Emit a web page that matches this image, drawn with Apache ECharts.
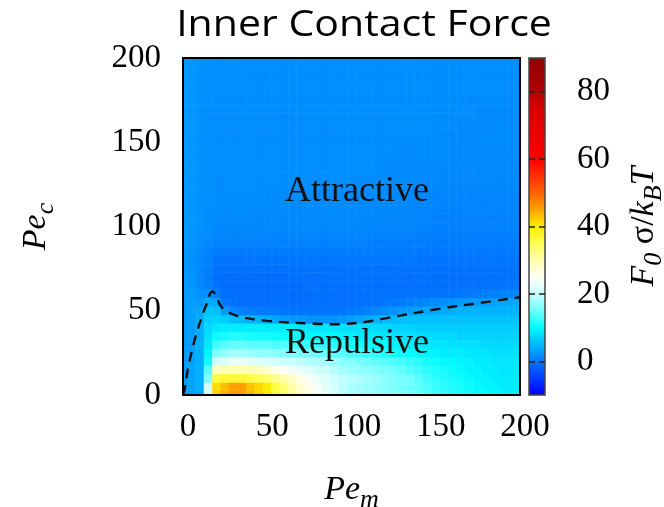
<!DOCTYPE html>
<html>
<head>
<meta charset="utf-8">
<script src="https://cdn.jsdelivr.net/npm/echarts@6/dist/echarts.min.js"></script>
<style>
html,body{margin:0;padding:0;background:#fff;}
#chart{width:664px;height:507px;}
</style>
</head>
<body>
<div id="chart"></div>
<script>
// ---- data ----
const pemValues = [0,5,10,15,20,25,30,35,40,45,50,55,60,65,70,75,80,85,90,95,100,105,110,115,120,125,130,135,140,145,150,155,160,165,170,175,180,185,190,195,200];
const pecValues = [0,5,10,15,20,25,30,35,40,45,50,55,60,65,70,75,80,85,90,95,100,105,110,115,120,125,130,135,140,145,150,155,160,165,170,175,180,185,190,195,200];
// forceRows[j][k] : F0 sigma/kBT at Pe_c = pecValues[j], Pe_m = pemValues[k]
const forceRows = [
[2.5,3.2,3.5,22, 42,44,46,45.5,44,42,40.5, 37,34,31,28,26,24,23,21.5, 19.5,18.5,18,17.5,17.5,17,16.5,16,15.5,15, 14,13,12.5,12,11.5,11,10.5,10,9.5,9.5,9,9],
[2.6,3.2,4.2,21, 41,43,45,45,43,41.5,40, 36,33,30,27.5,25.5,24,22.5,21, 19.5,18.5,18,17.5,17,16.5,16,15.5,15,14.5, 13.5,12.5,12,11.5,11,10.5,10,9.5,9.5,9,9,9],
[2.6,3.2,4.2,16, 36,37,37,37,36,35,34, 32,30,28,26,24.5,23,22,20.5, 19.5,19,18.5,18,17.5,16.5,16,15.5,15,14, 13,12,11.5,11,10.5,10,9.5,9.5,9,9,9,8.5],
[2.6,3.2,4.2,14, 29,29.5,30,30,29.5,29,28, 26,25,24,23,22,21,20,19, 18,17.5,17,16.5,16,15.5,15,14.5,13.5,13, 12,11.5,11,10.5,10,9.5,9.5,9,9,8.5,8.5,8.5],
[2.6,3.2,4.2,11, 21,22,23,23,22.5,22,21.5, 21,20.5,20,19.5,19,18.5,18,17.5, 16.5,16,15.5,15,14.5,14,13.5,13,12.5,12, 11,10.5,10,10,9.5,9.5,9,9,8.5,8.5,8.5,8.5],
[2.6,3,4.2,9.5, 16,17,18,18,17.5,17,17, 16.5,16,16,15.5,15.5,15,15,14.5, 14,13.5,13,12.5,12,11.5,11,10.5,10,10, 9.5,9.5,9,9,9,8.5,8.5,8.5,8,8,8,8],
[2.6,3,4.2,8.5, 13,14,14.5,14.5,14,14,14, 13.5,13.5,13,13,12.5,12.5,12,12, 11.5,11,11,10.5,10,10,9.5,9.5,9,9, 8.5,8.5,8.5,8,8,8,8,7.5,7.5,7.5,7.5,7.5],
[2.6,3,4.2,8, 10.5,11,11.5,11.5,11,11,11, 10.5,10.5,10.5,10.5,10,10,10,10, 9.5,9.5,9,9,9,8.5,8.5,8,8,8, 7.5,7.5,7.5,7.5,7,7,7,7,7,7,7,7],
[2.6,3,4.2,7.5, 8.5,9,9,9,9,9,9, 9,9,9,8.5,8.5,8.5,8.5,8.5, 8,8,8,7.5,7.5,7.5,7,7,7,6.5, 6.5,6.5,6.5,6.5,6.5,6.5,6.5,6.5,6.5,6.5,6.5,6.5],
[2.6,3,4,6.5, 7,6.5,5.5,5,4.5,4.5,4, 3.5,3,2.5,2.5,2,2,2,2, 2.5,3,3.5,4,4.5,5,5,5.5,5.5,5.5, 5.5,5.5,5.5,5.5,5.5,5.5,5.5,5.5,5.5,5.5,5.5,5.5],
[2.6,3,3.5,6, 5.5,3,1.2,0.8,0.4,0.1,0, 0,-0.2,-0.3,-0.3,-0.3,-0.3,-0.3,-0.3, -0.2,0,0.3,0.8,1.3,1.8,2.2,2.6,3,3.4, 3.6,3.8,4,4.2,4.4,4.5,4.5,4.5,4.5,4.5,4.5,4.5],
[2.6,2.8,2.5,4, 3.5,0,-0.5,-0.8,-0.8,-0.8,-0.8, -0.8,-0.8,-0.8,-0.8,-0.7,-0.7,-0.6,-0.6, -0.6,-0.6,-0.5,-0.4,-0.3,-0.1,0,0.3,0.6,1, 1.4,1.7,1.9,2.2,2.5,2.8,3,3.2,3.4,3.6,3.8,3.8],
[2.6,2.5,2,2, 0.5,-0.8,-0.9,-0.9,-0.9,-0.9,-0.9, -0.9,-0.9,-0.9,-0.8,-0.8,-0.7,-0.7,-0.7, -0.6,-0.6,-0.6,-0.6,-0.5,-0.5,-0.5,-0.4,-0.4,-0.4, -0.3,-0.3,-0.2,-0.1,0,0.1,0.3,0.5,0.7,0.9,1.1,1.3],
[2.5,2.3,1.5,0.5, -0.5,-0.9,-0.9,-0.9,-0.9,-0.9,-0.9, -0.9,-0.9,-0.8,-0.8,-0.7,-0.7,-0.6,-0.6, -0.6,-0.6,-0.6,-0.6,-0.6,-0.6,-0.6,-0.6,-0.6,-0.6, -0.6,-0.6,-0.6,-0.6,-0.6,-0.6,-0.6,-0.5,-0.4,-0.3,-0.2,-0.1],
[2.5,2.1,1.4,0.3, -0.7,-0.8,-0.8,-0.8,-0.8,-0.8,-0.8, -0.8,-0.8,-0.7,-0.7,-0.6,-0.6,-0.5,-0.5, -0.5,-0.5,-0.5,-0.5,-0.5,-0.5,-0.5,-0.5,-0.6,-0.6, -0.6,-0.7,-0.7,-0.7,-0.7,-0.7,-0.7,-0.6,-0.6,-0.5,-0.5,-0.5],
[2.5,2,1.2,0.5, -0.5,-0.6,-0.6,-0.6,-0.6,-0.6,-0.6, -0.6,-0.5,-0.5,-0.5,-0.4,-0.4,-0.4,-0.4, -0.4,-0.4,-0.3,-0.3,-0.3,-0.3,-0.3,-0.3,-0.4,-0.4, -0.5,-0.5,-0.5,-0.5,-0.5,-0.5,-0.5,-0.5,-0.4,-0.4,-0.4,-0.4],
[2.5,2,1.3,0.7, -0.2,-0.3,-0.3,-0.3,-0.3,-0.3,-0.3, -0.3,-0.2,-0.2,-0.2,-0.2,-0.1,-0.1,-0.1, -0.1,-0.1,0,0,0,0,0,-0.1,-0.1,-0.2, -0.2,-0.3,-0.3,-0.3,-0.3,-0.3,-0.3,-0.2,-0.2,-0.2,-0.2,-0.2],
[2.5,2.1,1.5,1, 0.3,0.2,0.2,0.2,0.2,0.2,0.2, 0.2,0.3,0.3,0.3,0.3,0.3,0.3,0.3, 0.3,0.3,0.3,0.3,0.3,0.3,0.2,0.2,0.1,0.1, 0,0,0,0,0,0,0,0,0.1,0.1,0.1,0.1],
[2.6,2.2,1.7,1.3, 0.8,0.7,0.7,0.7,0.7,0.7,0.7, 0.7,0.7,0.7,0.7,0.7,0.7,0.7,0.7, 0.7,0.7,0.7,0.6,0.6,0.6,0.5,0.5,0.4,0.4, 0.3,0.3,0.3,0.3,0.3,0.3,0.3,0.3,0.3,0.3,0.3,0.3],
[2.6,2.2,1.8,1.5, 1.1,1,1,1,1,1,1, 1,1,1,1,1,1,1,1, 1,1,0.9,0.9,0.9,0.8,0.8,0.7,0.7,0.6, 0.6,0.5,0.5,0.5,0.5,0.5,0.5,0.5,0.5,0.5,0.5,0.5],
[2.6,2.3,2,1.6, 1.2,1.1,1.1,1.1,1.1,1.1,1.2, 1.2,1.2,1.2,1.2,1.2,1.2,1.2,1.2, 1.2,1.2,1.1,1.1,1.1,1,1,0.9,0.9,0.8, 0.8,0.7,0.7,0.7,0.7,0.7,0.7,0.7,0.7,0.7,0.7,0.7],
[2.6,2.3,2,1.7, 1.4,1.3,1.3,1.3,1.3,1.3,1.3, 1.3,1.3,1.3,1.3,1.3,1.3,1.3,1.3, 1.3,1.3,1.2,1.2,1.2,1.1,1.1,1,1,0.9, 0.9,0.8,0.8,0.8,0.8,0.8,0.8,0.8,0.8,0.8,0.8,0.8],
[2.6,2.3,2,1.7, 1.5,1.4,1.4,1.4,1.4,1.4,1.4, 1.4,1.4,1.4,1.4,1.4,1.4,1.4,1.4, 1.4,1.4,1.3,1.3,1.3,1.2,1.2,1.1,1.1,1, 1,0.9,0.9,0.9,0.9,0.9,0.9,0.9,0.9,0.9,0.9,0.9],
[2.6,2.3,2,1.8, 1.5,1.5,1.5,1.5,1.5,1.5,1.5, 1.5,1.5,1.5,1.5,1.5,1.5,1.5,1.5, 1.5,1.4,1.4,1.4,1.3,1.3,1.3,1.2,1.2,1.1, 1.1,1,1,1,1,1,1,1,1,1,1,1],
[2.6,2.3,2,1.8, 1.6,1.5,1.5,1.5,1.5,1.5,1.5, 1.5,1.5,1.5,1.5,1.5,1.5,1.5,1.5, 1.5,1.5,1.5,1.4,1.4,1.4,1.3,1.3,1.3,1.2, 1.2,1.1,1.1,1.1,1.1,1.1,1.1,1.1,1.1,1.1,1.1,1.1],
[2.6,2.3,2,1.8, 1.6,1.6,1.6,1.6,1.6,1.6,1.6, 1.6,1.6,1.6,1.6,1.6,1.6,1.6,1.6, 1.6,1.5,1.5,1.5,1.5,1.5,1.4,1.4,1.4,1.3, 1.3,1.3,1.2,1.2,1.2,1.2,1.2,1.2,1.2,1.2,1.2,1.2],
[2.6,2.3,2,1.8, 1.6,1.6,1.6,1.6,1.6,1.6,1.6, 1.6,1.6,1.6,1.6,1.6,1.6,1.6,1.6, 1.6,1.6,1.5,1.5,1.5,1.5,1.5,1.5,1.5,1.4, 1.4,1.4,1.3,1.3,1.3,1.3,1.3,1.3,1.3,1.3,1.3,1.3],
[2.6,2.3,2,1.8, 1.7,1.6,1.6,1.6,1.6,1.6,1.6, 1.6,1.6,1.6,1.6,1.6,1.6,1.6,1.6, 1.6,1.6,1.6,1.6,1.5,1.5,1.5,1.5,1.5,1.5, 1.5,1.4,1.4,1.4,1.4,1.4,1.4,1.4,1.4,1.4,1.4,1.4],
[2.6,2.3,2,1.8, 1.7,1.6,1.6,1.6,1.6,1.6,1.6, 1.6,1.6,1.6,1.6,1.6,1.6,1.6,1.6, 1.6,1.6,1.6,1.6,1.6,1.5,1.5,1.5,1.5,1.5, 1.5,1.5,1.5,1.4,1.4,1.4,1.4,1.4,1.4,1.4,1.4,1.4],
[2.6,2.3,2,1.8, 1.7,1.7,1.6,1.6,1.6,1.6,1.6, 1.6,1.6,1.6,1.6,1.6,1.6,1.6,1.6, 1.6,1.6,1.6,1.6,1.6,1.6,1.5,1.5,1.5,1.5, 1.5,1.5,1.5,1.5,1.5,1.5,1.5,1.5,1.5,1.5,1.5,1.5],
[2.6,2.3,2,1.8, 1.7,1.7,1.6,1.6,1.6,1.6,1.6, 1.6,1.6,1.6,1.6,1.6,1.6,1.6,1.6, 1.6,1.6,1.6,1.6,1.6,1.6,1.6,1.6,1.5,1.5, 1.5,1.5,1.5,1.5,1.5,1.5,1.5,1.5,1.5,1.5,1.5,1.5],
[2.6,2.3,2,1.8, 1.7,1.7,1.6,1.6,1.6,1.6,1.6, 1.6,1.6,1.6,1.6,1.6,1.6,1.6,1.6, 1.6,1.6,1.6,1.6,1.6,1.6,1.6,1.6,1.6,1.6, 1.6,1.6,1.5,1.5,1.5,1.5,1.5,1.5,1.5,1.5,1.5,1.5],
[2.6,2.3,2,1.8, 1.7,1.7,1.6,1.6,1.6,1.6,1.7, 1.7,1.7,1.6,1.6,1.6,1.6,1.6,1.6, 1.6,1.6,1.6,1.6,1.6,1.6,1.6,1.6,1.6,1.6, 1.6,1.6,1.6,1.6,1.5,1.5,1.5,1.5,1.5,1.5,1.5,1.5],
[2.6,2.3,2,1.8, 1.7,1.7,1.6,1.6,1.6,1.6,1.6, 1.6,1.6,1.6,1.6,1.6,1.6,1.6,1.6, 1.6,1.6,1.6,1.6,1.6,1.6,1.6,1.6,1.6,1.6, 1.6,1.6,1.6,1.6,1.6,1.6,1.5,1.5,1.5,1.5,1.5,1.5],
[2.6,2.3,2,1.8, 1.7,1.7,1.6,1.6,1.6,1.6,1.6, 1.6,1.6,1.6,1.6,1.6,1.6,1.6,1.6, 1.6,1.6,1.6,1.6,1.6,1.6,1.6,1.6,1.6,1.6, 1.6,1.6,1.6,1.6,1.6,1.6,1.5,1.5,1.5,1.5,1.5,1.5],
[2.6,2.3,2,1.8, 1.7,1.7,1.7,1.6,1.6,1.6,1.6, 1.6,1.6,1.6,1.6,1.6,1.6,1.6,1.6, 1.6,1.6,1.6,1.6,1.6,1.6,1.6,1.6,1.6,1.6, 1.6,1.6,1.6,1.6,1.6,1.6,1.6,1.6,1.6,1.6,1.6,1.6],
[2.6,2.3,2,1.8, 1.7,1.7,1.7,1.6,1.6,1.6,1.6, 1.6,1.6,1.6,1.6,1.6,1.6,1.6,1.6, 1.6,1.6,1.6,1.6,1.6,1.6,1.6,1.6,1.6,1.6, 1.6,1.6,1.6,1.6,1.6,1.6,1.6,1.6,1.6,1.6,1.6,1.6],
[2.6,2.3,2,1.8, 1.7,1.7,1.7,1.6,1.6,1.6,1.6, 1.6,1.6,1.6,1.6,1.6,1.6,1.6,1.6, 1.6,1.6,1.6,1.6,1.6,1.6,1.6,1.6,1.6,1.6, 1.6,1.6,1.6,1.6,1.6,1.6,1.6,1.6,1.6,1.6,1.6,1.6],
[2.6,2.3,2,1.8, 1.7,1.7,1.7,1.6,1.6,1.6,1.6, 1.6,1.6,1.6,1.6,1.6,1.6,1.6,1.6, 1.6,1.6,1.6,1.6,1.6,1.6,1.6,1.6,1.6,1.6, 1.6,1.6,1.6,1.6,1.6,1.6,1.6,1.6,1.6,1.6,1.6,1.6],
[2.6,2.3,2,1.8, 1.7,1.7,1.7,1.6,1.6,1.6,1.6, 1.6,1.6,1.6,1.6,1.6,1.6,1.6,1.6, 1.6,1.6,1.6,1.6,1.6,1.6,1.6,1.6,1.6,1.6, 1.6,1.6,1.6,1.6,1.6,1.6,1.6,1.6,1.6,1.6,1.6,1.6],
[2.6,2.3,2,1.8, 1.7,1.7,1.7,1.6,1.6,1.6,1.6, 1.6,1.6,1.6,1.6,1.6,1.6,1.6,1.6, 1.6,1.6,1.6,1.6,1.6,1.6,1.6,1.6,1.6,1.6, 1.6,1.6,1.6,1.6,1.6,1.6,1.6,1.6,1.6,1.6,1.6,1.6]
];
// dashed boundary (F = 0 contour)
const boundaryPem = [0,1.2,3,7,11,14,16,17.5,19.5,23,32,50,78,92,109,120,151,175,200];
const boundaryPec = [0,4.5,16,33,46,54,60,61.5,59,52,47,44,42.3,42,43.5,45.5,51,54.5,58];
const xTicks = [0,50,100,150,200];
const yTicks = [0,50,100,150,200];
const cbTicks = [0,20,40,60,80];
const forceRange = [-10, 90];

// ---- styles ----
const colorScale = ['#0000ff','#003cff','#0078ff','#00b9ff','#00faff','#6effff','#c8ffff','#fffff5','#ffffaa','#ffff55','#ffee00','#ffa000','#ff6000','#ff3000','#ff0000','#ee0000','#e20000','#d60000','#b40000','#a00000','#960000'];
const serif = '"Liberation Serif", "Times New Roman", serif';
const cellHalf = 2.5;
const nameRich = {
  i: {fontFamily: serif, fontStyle: 'italic', fontSize: 34, color: '#000'},
  s: {fontFamily: serif, fontStyle: 'italic', fontSize: 26, color: '#000', padding: [20, 0, 0, 0]},
  u: {fontFamily: serif, fontSize: 34, color: '#000'}
};

const cellData = [];
for (let j = 0; j < pecValues.length; j++) {
  for (let k = 0; k < pemValues.length; k++) {
    cellData.push([pemValues[k], pecValues[j], forceRows[j][k]]);
  }
}
const boundaryData = boundaryPem.map((v, i) => [v, boundaryPec[i]]);

const chart = echarts.init(document.getElementById('chart'), null, {renderer: 'canvas'});
const frameLine = {show: true, onZero: false, lineStyle: {color: '#000', width: 2}};
const cbLine = {show: true, onZero: false, lineStyle: {color: '#444', width: 1.5}};

chart.setOption({
  animation: false,
  backgroundColor: '#fff',
  grid: [
    {left: 183, top: 58, width: 337, height: 337, containLabel: false, outerBoundsMode: 'none'},
    {left: 529, top: 58, width: 16, height: 337, containLabel: false, outerBoundsMode: 'none'}
  ],
  visualMap: {
    type: 'continuous', min: forceRange[0], max: forceRange[1], dimension: 2, seriesIndex: 0,
    orient: 'vertical', left: 529, top: 58, itemWidth: 16, itemHeight: 337, padding: 0,
    calculable: false, hoverLink: false, showLabel: false,
    inRange: {color: colorScale}
  },
  xAxis: [
    {gridIndex: 0, type: 'value', min: xTicks[0], max: xTicks[xTicks.length - 1], interval: 50, position: 'bottom', z: 10,
     axisLine: frameLine, axisTick: {show: false}, splitLine: {show: false},
     axisLabel: {color: '#000', fontFamily: serif, fontSize: 33, margin: 16, padding: [0, 0, 0, 10]},
     name: '{i|Pe}{s|m}', nameLocation: 'middle', nameGap: 72, nameTextStyle: {rich: nameRich}},
    {gridIndex: 0, type: 'value', min: 0, max: 200, position: 'top', z: 10,
     axisLine: frameLine, axisTick: {show: false}, axisLabel: {show: false}, splitLine: {show: false}},
    {gridIndex: 1, type: 'value', min: 0, max: 1, position: 'bottom', z: 10,
     axisLine: cbLine, axisTick: {show: false}, axisLabel: {show: false}, splitLine: {show: false}},
    {gridIndex: 1, type: 'value', min: 0, max: 1, position: 'top', z: 10,
     axisLine: cbLine, axisTick: {show: false}, axisLabel: {show: false}, splitLine: {show: false}}
  ],
  yAxis: [
    {gridIndex: 0, type: 'value', min: yTicks[0], max: yTicks[yTicks.length - 1], interval: 50, position: 'left', z: 10,
     axisLine: frameLine, axisTick: {show: false}, splitLine: {show: false},
     axisLabel: {color: '#000', fontFamily: serif, fontSize: 33, margin: 22},
     name: '{i|Pe}{s|c}', nameLocation: 'middle', nameRotate: 90, nameGap: 124, nameTextStyle: {rich: nameRich}},
    {gridIndex: 0, type: 'value', min: 0, max: 200, position: 'right', z: 10,
     axisLine: frameLine, axisTick: {show: false}, axisLabel: {show: false}, splitLine: {show: false}},
    {gridIndex: 1, type: 'value', min: forceRange[0], max: forceRange[1], position: 'left', z: 10,
     axisLine: cbLine, splitLine: {show: false}, axisLabel: {show: false},
     axisTick: {show: true, inside: true, length: 6, customValues: cbTicks, lineStyle: {color: '#222', width: 1.5}}},
    {gridIndex: 1, type: 'value', min: forceRange[0], max: forceRange[1], position: 'right', z: 10,
     axisLine: cbLine, splitLine: {show: false},
     axisTick: {show: true, inside: true, length: 6, customValues: cbTicks, lineStyle: {color: '#222', width: 1.5}},
     axisLabel: {customValues: cbTicks, color: '#000', fontFamily: serif, fontSize: 33, margin: 32},
     name: '{i|F}{s|0}{u| σ/}{i|k}{s|B}{i|T}', nameLocation: 'middle', nameRotate: 90, nameGap: 76,
     nameTextStyle: {rich: nameRich}}
  ],
  series: [
    {
      type: 'custom', xAxisIndex: 0, yAxisIndex: 0, data: cellData, encode: {x: 0, y: 1}, z: 2, silent: true,
      renderItem: function (params, api) {
        const x = api.value(0), y = api.value(1);
        const a = api.coord([x - cellHalf, y + cellHalf]);
        const b = api.coord([x + cellHalf, y - cellHalf]);
        const rect = echarts.graphic.clipRectByRect(
          {x: a[0], y: a[1], width: b[0] - a[0], height: b[1] - a[1]},
          {x: params.coordSys.x, y: params.coordSys.y, width: params.coordSys.width, height: params.coordSys.height}
        );
        if (!rect) return null;
        const c = api.visual('color');
        return {type: 'rect', shape: rect, style: {fill: c, stroke: c, lineWidth: 0.6}};
      }
    },
    {
      type: 'line', xAxisIndex: 0, yAxisIndex: 0, data: boundaryData, symbol: 'none', showSymbol: false,
      smooth: 0.35, clip: true, silent: true, z: 5,
      lineStyle: {color: '#111', width: 2.4, type: [10, 7]}
    }
  ],
  graphic: [
    {type: 'text', x: 364, y: 26, scaleX: 1.14, z: 100,
     style: {text: 'Inner Contact Force', fontFamily: '"Open Sans", sans-serif', fontSize: 36, fill: '#000', align: 'center', verticalAlign: 'middle', textAlign: 'center', textVerticalAlign: 'middle'}},
    {type: 'text', x: 357, y: 192, z: 100,
     style: {text: 'Attractive', fontFamily: serif, fontSize: 36, fill: '#111', align: 'center', verticalAlign: 'middle', textAlign: 'center', textVerticalAlign: 'middle'}},
    {type: 'text', x: 357, y: 344, z: 100,
     style: {text: 'Repulsive', fontFamily: serif, fontSize: 36, fill: '#111', align: 'center', verticalAlign: 'middle', textAlign: 'center', textVerticalAlign: 'middle'}}
  ]
});
</script>
</body>
</html>
